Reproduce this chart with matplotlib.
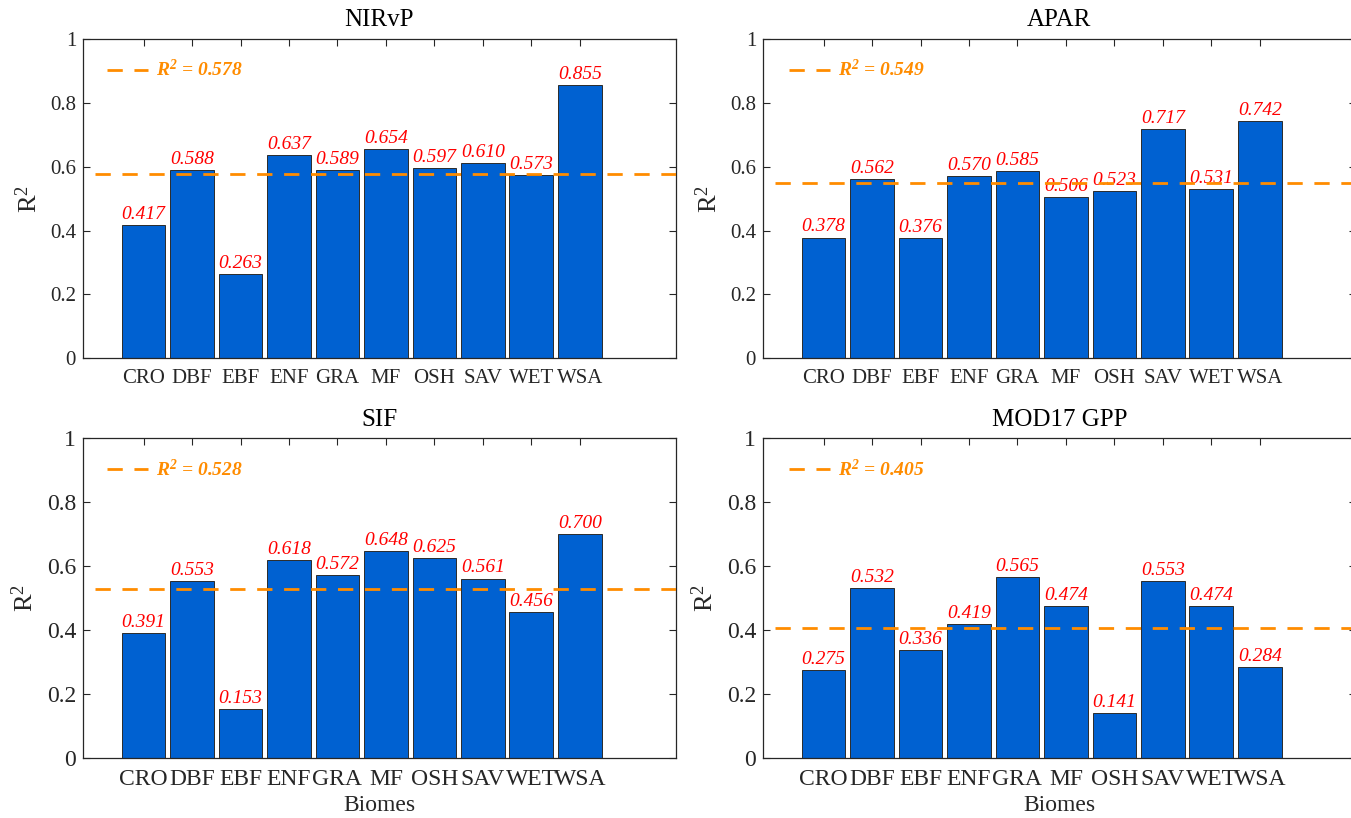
import matplotlib
matplotlib.use("Agg")
import matplotlib.pyplot as plt
import numpy as np

plt.rcParams['font.family'] = ['Liberation Serif', 'DejaVu Serif']
plt.rcParams['mathtext.fontset'] = 'custom'
plt.rcParams['mathtext.rm'] = 'Liberation Serif'
plt.rcParams['mathtext.it'] = 'Liberation Serif:italic'
plt.rcParams['mathtext.bf'] = 'Liberation Serif:bold'
plt.rcParams['mathtext.bfit'] = 'Liberation Serif:italic:bold'

biomes = ['CRO', 'DBF', 'EBF', 'ENF', 'GRA', 'MF', 'OSH', 'SAV', 'WET', 'WSA']
titles = ['NIRvP', 'APAR', 'SIF', 'MOD17 GPP']
nirvp = [0.417, 0.588, 0.263, 0.637, 0.589, 0.654, 0.597, 0.610, 0.573, 0.855]
apar = [0.378, 0.562, 0.376, 0.570, 0.585, 0.506, 0.523, 0.717, 0.531, 0.742]
sif = [0.391, 0.553, 0.153, 0.618, 0.572, 0.648, 0.625, 0.561, 0.456, 0.700]
mod17 = [0.275, 0.532, 0.336, 0.419, 0.565, 0.474, 0.141, 0.553, 0.474, 0.284]
overall = [0.578, 0.549, 0.528, 0.405]
series = [nirvp, apar, sif, mod17]

W, H = 1351, 818
fig = plt.figure(figsize=(W / 100, H / 100), dpi=100)

ax_w = 592.7 / W
ax_h = 319.4 / H
lefts = [83 / W, 763 / W, 83 / W, 763 / W]
bottoms = [(H - 358.3) / H, (H - 358.3) / H, (H - 757.7) / H, (H - 757.7) / H]

bar_color = '#0061D1'
edge_color = '#2b2b2b'
orange = '#FF8C00'
dark = '#262626'

for i in range(4):
    ax = fig.add_axes([lefts[i], bottoms[i], ax_w, ax_h])
    top_row = i < 2
    fs_tick = 15 if top_row else 17
    x = np.arange(1, len(biomes) + 1)
    vals = series[i]
    ax.bar(x, vals, width=0.9, color=bar_color, edgecolor=edge_color, linewidth=0.7, zorder=2)
    for xi, v in zip(x, vals):
        ax.annotate(f'{v:.3f}', (xi, v), xytext=(0, 1.5), textcoords='offset points',
                    ha='center', va='bottom', color='#FF0000', fontsize=14,
                    fontstyle='italic', zorder=3)
    ax.plot([0, 12], [overall[i], overall[i]], color=orange, linewidth=2,
            dashes=(5.5, 4.2), zorder=4,
            label=r'$\mathbfit{R}^{\mathbfit{2}}$ = ' + f'{overall[i]:.3f}')
    ax.set_xlim(-0.25, 11.98)
    ax.set_ylim(0, 1)
    ax.set_xticks(x)
    ax.set_xticklabels(biomes)
    ax.set_yticks([0, 0.2, 0.4, 0.6, 0.8, 1.0])
    ax.set_yticklabels(['0', '0.2', '0.4', '0.6', '0.8', '1'])
    ax.tick_params(direction='in', top=True, right=True, length=5, width=0.8,
                   colors=dark, labelsize=fs_tick)
    ax.tick_params(axis='x', pad=8)
    ax.tick_params(axis='y', pad=5)
    for s in ax.spines.values():
        s.set_color(dark)
        s.set_linewidth(0.9)
    ax.set_title(titles[i], fontsize=18, color='black', pad=9)
    ax.set_ylabel(r'R$^2$', fontsize=19, color=dark, labelpad=6)
    if not top_row:
        ax.set_xlabel('Biomes', fontsize=17, color=dark, labelpad=4)
    leg_x = (110 - 83) / 592.7 if i % 2 == 0 else (792 - 763) / 592.7
    ax.legend(loc='center left', bbox_to_anchor=(leg_x - 0.005, 1 - 31 / 319.4), frameon=False,
              borderpad=0, borderaxespad=0, handlelength=2.1, handletextpad=0.4,
              prop={'size': 14, 'weight': 'bold', 'style': 'italic'}, labelcolor=orange)

fig.savefig('out.png', dpi=100)
